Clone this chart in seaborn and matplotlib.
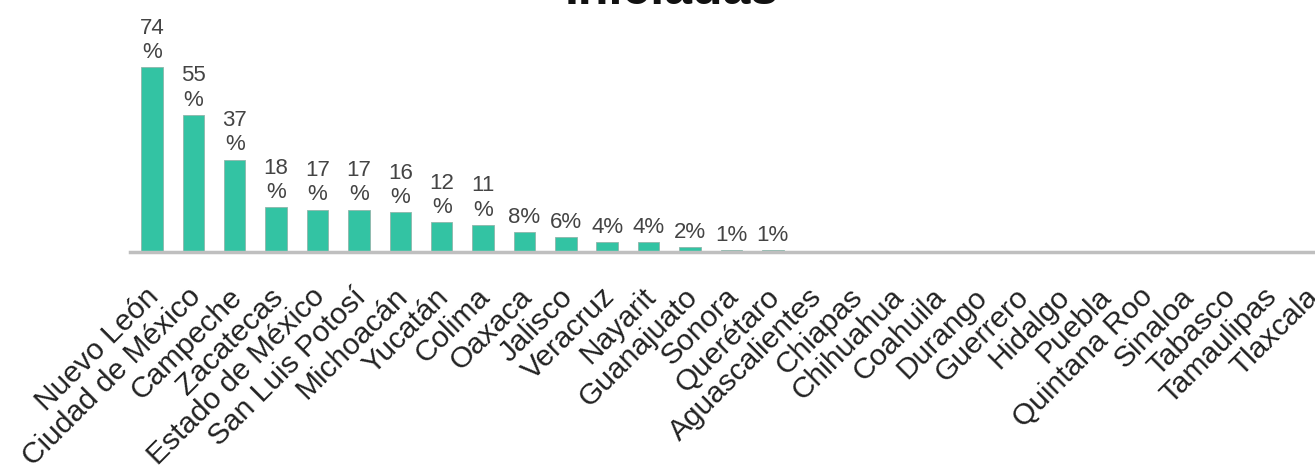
import matplotlib
matplotlib.use("Agg")
import matplotlib.pyplot as plt
import matplotlib.transforms as mtrans
import seaborn as sns
import pandas as pd

estados = ["Nuevo León", "Ciudad de México", "Campeche", "Zacatecas", "Estado de México",
           "San Luis Potosí", "Michoacán", "Yucatán", "Colima", "Oaxaca", "Jalisco",
           "Veracruz", "Nayarit", "Guanajuato", "Sonora", "Querétaro", "Aguascalientes",
           "Chiapas", "Chihuahua", "Coahuila", "Durango", "Guerrero", "Hidalgo", "Puebla",
           "Quintana Roo", "Sinaloa", "Tabasco", "Tamaulipas", "Tlaxcala"]
porcentajes = [74, 55, 37, 18, 17, 17, 16, 12, 11, 8, 6, 4, 4, 2, 1, 1,
               0, 0, 0, 0, 0, 0, 0, 0, 0, 0, 0, 0, 0]
alturas = [74, 55, 37, 18, 17, 17, 16, 12, 11, 8, 6, 4, 4, 2, 0.8, 0.8,
           0, 0, 0, 0, 0, 0, 0, 0, 0, 0, 0, 0, 0]

df = pd.DataFrame({"estado": estados, "valor": alturas})

sns.set_style("white")
plt.rcParams["font.family"] = ["Liberation Sans", "DejaVu Sans"]

fig = plt.figure(figsize=(13.15, 4.75), dpi=100)
ax = fig.add_axes([130 / 1315, 223 / 475, 1 - 130 / 1315, 252 / 475])

sns.barplot(data=df, x="estado", y="valor", color="#33C3A3", width=0.52,
            edgecolor="#8fb5aa", linewidth=0.6, saturation=1, ax=ax)

for i, (p, h) in enumerate(zip(porcentajes, alturas)):
    if h <= 0:
        continue
    txt = f"{p}\n%" if p >= 10 else f"{p}%"
    ax.text(i, h + 1.6, txt, ha="center", va="bottom", fontsize=16,
            color="#444444", linespacing=1.2)

ax.set_xlim(-0.53, 28.1)
ax.set_ylim(0, 100.8)
ax.set_xlabel("")
ax.set_ylabel("")
ax.set_yticks([])
for s in ["top", "right", "left"]:
    ax.spines[s].set_visible(False)
ax.spines["bottom"].set_color("#BFBFBF")
ax.spines["bottom"].set_linewidth(2.5)
ax.tick_params(axis="x", length=0, pad=22)
plt.setp(ax.get_xticklabels(), rotation=45, ha="right", rotation_mode="anchor",
         fontsize=21.5, color="#222222")
# nudge the rotated labels a bit to the left, like the original
shift = mtrans.ScaledTranslation(-5 / 72, 0, fig.dpi_scale_trans)
for lbl in ax.get_xticklabels():
    lbl.set_transform(lbl.get_transform() + shift)

fig.text(0.511, 1.018, "Iniciadas", ha="center", va="center", fontsize=36,
         fontweight="bold", color="#111111")

fig.savefig("out.png", dpi=100)
